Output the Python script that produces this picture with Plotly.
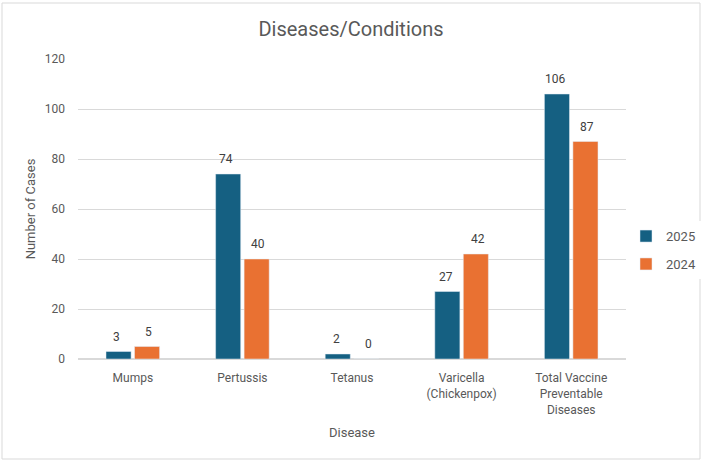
import plotly.graph_objects as go

# Chart data
diseases = ["Mumps", "Pertussis", "Tetanus", "Varicella<br>(Chickenpox)",
            "Total Vaccine<br>Preventable<br>Diseases"]
cases_2025 = [3, 74, 2, 27, 106]
cases_2024 = [5, 40, 0, 42, 87]

font_family = "Roboto, Liberation Sans, Arial"
text_grey = "#595959"
label_grey = "#404040"

fig = go.Figure()
fig.add_trace(go.Bar(x=diseases, y=cases_2025, name="2025", marker_color="#156082",
                     legendgroup="a"))
fig.add_trace(go.Bar(x=diseases, y=cases_2024, name="2024", marker_color="#E97132",
                     legendgroup="b"))

# value labels above each bar (offset left/right for the grouped pair)
for vals, shift in [(cases_2025, -16), (cases_2024, 16)]:
    for d, v in zip(diseases, vals):
        fig.add_annotation(x=d, y=v, text=str(v), showarrow=False, xshift=shift, yshift=15,
                           font=dict(size=12, color=label_grey))

fig.update_layout(
    width=702, height=462,
    margin=dict(l=78, r=76, t=59, b=103, autoexpand=False),
    paper_bgcolor="white", plot_bgcolor="white",
    font=dict(family=font_family, size=12, color=text_grey),
    title=dict(text="Diseases/Conditions", x=0.5, xanchor="center", y=0.937, yanchor="middle",
               font=dict(size=20, color=text_grey)),
    barmode="group", bargap=0.48, bargroupgap=0.12,
    legend=dict(x=1.0, y=0.363, xanchor="left", yanchor="middle", traceorder="grouped",
                font=dict(size=13, color=text_grey), itemwidth=30, tracegroupgap=8),
    xaxis=dict(title=dict(text="Disease", font=dict(size=13, color=text_grey), standoff=12),
               showline=True, linecolor="#d9d9d9", ticks="", tickfont=dict(size=12),
               ticklabelstandoff=8, automargin=False),
    yaxis=dict(title=dict(text="Number of Cases", font=dict(size=13, color=text_grey), standoff=6),
               range=[0, 120], dtick=20, gridcolor="#d9d9d9", zeroline=True,
               zerolinecolor="#d9d9d9", showline=False, tickfont=dict(size=12),
               ticklabelstandoff=12, automargin=False),
)

# light border around the whole chart
fig.add_shape(type="rect", xref="paper", yref="paper",
              x0=-76 / 548, x1=622 / 548, y0=-100 / 300, y1=356 / 300,
              line=dict(color="#d9d9d9", width=1), fillcolor="rgba(0,0,0,0)", layer="below")

# drop the default page margin so the chart sits at the window's top-left
fig.write_html("out.html", config={"displayModeBar": False},
               post_script="document.body.style.margin='0';")
